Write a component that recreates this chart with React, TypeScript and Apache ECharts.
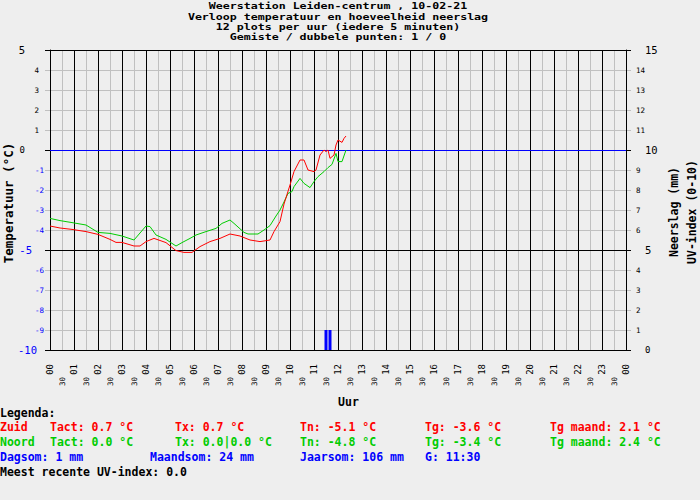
import React, { useEffect, useRef } from "react";
import * as echarts from "echarts";

const titleLines = [
  "Weerstation Leiden-centrum , 10-02-21",
  "Verloop temperatuur en hoeveelheid neerslag",
  "12 plots per uur (iedere 5 minuten)",
  "Gemiste / dubbele punten: 1 / 0",
];

const hourLabels = [
  "00", "01", "02", "03", "04", "05", "06", "07", "08", "09", "10", "11",
  "12", "13", "14", "15", "16", "17", "18", "19", "20", "21", "22", "23", "00",
];
const halfHourLabel = "30";

// minutes since midnight, temperature °C
const zuidMinutes = [0, 25, 55, 90, 120, 150, 165, 180, 210, 225, 240, 260, 290, 315, 335, 355, 375, 400, 425, 450, 475, 500, 525, 550, 560, 575, 585, 600, 610, 625, 635, 645, 660, 665, 675, 685, 690, 695, 700, 710, 715, 720, 730, 735, 740];
const zuidTemps = [-3.8, -3.9, -3.97, -4.08, -4.22, -4.47, -4.62, -4.62, -4.8, -4.8, -4.58, -4.42, -4.63, -5.03, -5.12, -5.12, -4.83, -4.58, -4.42, -4.2, -4.3, -4.5, -4.58, -4.5, -4.08, -3.58, -2.7, -1.75, -1.08, -0.5, -0.5, -1.0, -1.08, -1.0, -0.25, 0.0, -0.08, 0.0, -0.42, -0.25, 0.25, 0.5, 0.38, 0.58, 0.7];

const noordMinutes = [0, 25, 55, 90, 120, 150, 180, 210, 225, 240, 250, 265, 290, 315, 330, 350, 365, 390, 415, 430, 450, 460, 485, 495, 520, 535, 550, 565, 575, 585, 595, 605, 610, 625, 635, 650, 660, 670, 685, 695, 705, 715, 720, 730, 740];
const noordTemps = [-3.42, -3.53, -3.63, -3.75, -4.12, -4.17, -4.3, -4.5, -4.15, -3.8, -3.83, -4.25, -4.47, -4.8, -4.63, -4.42, -4.25, -4.08, -3.92, -3.67, -3.5, -3.67, -4.12, -4.2, -4.2, -4.0, -3.78, -3.3, -3.0, -2.6, -2.17, -2.08, -1.83, -1.42, -1.67, -1.88, -1.58, -1.33, -1.08, -0.88, -0.72, -0.17, -0.58, -0.58, 0.0];

const rainMinutes = [690, 700];
const rainMm = [1.0, 1.0];

const legendHeader = "Legenda:";
const legendZuid = ["Zuid", "Tact: 0.7 °C", "Tx: 0.7 °C", "Tn: -5.1 °C", "Tg: -3.6 °C", "Tg maand: 2.1 °C"];
const legendNoord = ["Noord", "Tact: 0.0 °C", "Tx: 0.0|0.0 °C", "Tn: -4.8 °C", "Tg: -3.4 °C", "Tg maand: 2.4 °C"];
const legendRain = ["Dagsom: 1 mm", "Maandsom: 24 mm", "Jaarsom: 106 mm", "G: 11:30"];
const legendUV = "Meest recente UV-index: 0.0";

const RED = "#ff0000";
const GREEN = "#00cc00";
const BLUE = "#0000ff";
const GRAY = "#c0c0c0";
const BG = "#eeeeee";
const MONO = "DejaVu Sans Mono";
const BOLD = 'bold 11.5px "DejaVu Sans Mono"';
const TITLE_FONT = 'bold 8.6px "DejaVu Sans Mono"';

function txt(text: string, x: number, y: number, fill: string, align = "left", font = BOLD, rotation = 0, scaleX = 1) {
  return {
    type: "text",
    x,
    y,
    rotation,
    scaleX,
    scaleY: 1,
    silent: true,
    style: {
      text,
      font,
      fill,
      align,
      textAlign: align,
      verticalAlign: "middle",
      textVerticalAlign: "middle",
    },
  };
}

export default function App() {
  const ref = useRef<HTMLDivElement>(null);
  useEffect(() => {
    if (!ref.current) return;
    const chart = echarts.init(ref.current, null, { renderer: "svg" });

    const zuid = zuidMinutes.map((m, i) => [m / 60, zuidTemps[i]]);
    const noord = noordMinutes.map((m, i) => [m / 60, noordTemps[i]]);
    const rain = rainMinutes.map((m, i) => [m / 60, rainMm[i]]);

    const legendCols = [0, 50, 175, 300, 425, 550];
    const rainCols = [0, 150, 300, 425];
    const titleY = [6.5, 16.6, 26.7, 36.8];

    const graphics: any[] = [];
    titleLines.forEach((t, i) => graphics.push(txt(t, 338, titleY[i], "#000", "center", TITLE_FONT, 0, 1.35)));
    graphics.push(txt("Uur", 348.5, 401.5, "#000", "center"));
    graphics.push(txt("Temperatuur (°C)", 8, 203, "#000", "center", 'bold 12.5px "DejaVu Sans Mono"', Math.PI / 2));
    graphics.push(txt("Neerslag (mm)", 674, 212, "#000", "center", BOLD, Math.PI / 2));
    graphics.push(txt("UV-index (0-10)", 692, 212, "#000", "center", BOLD, Math.PI / 2));
    graphics.push(txt(legendHeader, 0, 412.5, "#000"));
    legendZuid.forEach((t, i) => graphics.push(txt(t, legendCols[i], 427, RED)));
    legendNoord.forEach((t, i) => graphics.push(txt(t, legendCols[i], 442, GREEN)));
    legendRain.forEach((t, i) => graphics.push(txt(t, rainCols[i], 457, BLUE)));
    graphics.push(txt(legendUV, 0, 472, "#000"));

    const option: any = {
      animation: false,
      backgroundColor: BG,
      grid: { left: 50, right: 74, top: 50, bottom: 150, containLabel: false, outerBoundsMode: "none" },
      xAxis: [
        {
          type: "value",
          min: 0,
          max: 24,
          interval: 1,
          position: "bottom",
          z: 1,
          axisLine: { show: true, lineStyle: { color: "#000", width: 1 } },
          axisTick: { show: true, inside: false, length: 10, lineStyle: { color: "#000" } },
          splitLine: { show: true, lineStyle: { color: "#000", width: 1 } },
          axisLabel: {
            rotate: 90,
            margin: 14,
            fontFamily: MONO,
            fontSize: 9,
            color: "#000",
            showMinLabel: true,
            showMaxLabel: true,
            formatter: (v: number) => hourLabels[Math.round(v)] ?? "",
          },
        },
        {
          type: "value",
          min: 0,
          max: 24,
          interval: 0.5,
          position: "bottom",
          z: 0,
          axisLine: { show: false },
          axisTick: { show: false },
          splitLine: { show: true, lineStyle: { color: GRAY, width: 1 } },
          axisLabel: {
            rotate: 90,
            margin: 27,
            fontFamily: MONO,
            fontSize: 7.5,
            color: "#000",
            formatter: (v: number) => (Math.abs((v % 1) - 0.5) < 1e-6 ? halfHourLabel : ""),
          },
        },
      ],
      yAxis: [
        {
          type: "value",
          min: -10,
          max: 5,
          interval: 1,
          position: "left",
          z: 0,
          axisLine: { show: true, lineStyle: { color: "#000" } },
          axisTick: { show: true, inside: false, length: 5, lineStyle: { color: GRAY } },
          splitLine: { show: true, lineStyle: { color: GRAY, width: 1 } },
          axisLabel: {
            align: "right",
            margin: 5,
            fontFamily: MONO,
            formatter: (v: number) => {
              if (v === 5) return `{bp|${v}}`;
              if (v === 0) return `{z0|0}`;
              if (v > 0) return `{sp|${v}}`;
              if (v === -5) return `{b5|${v}}`;
              if (v === -10) return `{b10|${v}}`;
              return `{sn|${v}}`;
            },
            rich: {
              bp: { fontFamily: MONO, fontSize: 10.5, color: "#000", padding: [0, 20, 0, 0] },
              z0: { fontFamily: MONO, fontSize: 9, color: "#000", padding: [0, 20, 0, 0] },
              sp: { fontFamily: MONO, fontSize: 7.5, color: "#000", padding: [0, 6, 0, 0] },
              sn: { fontFamily: MONO, fontSize: 7.5, color: BLUE, padding: [0, 1, 0, 0] },
              b5: { fontFamily: MONO, fontSize: 10.5, color: BLUE, padding: [0, 13, 0, 0] },
              b10: { fontFamily: MONO, fontSize: 10.5, color: BLUE, padding: [0, 8, 0, 0] },
            },
          },
        },
        {
          type: "value",
          min: -10,
          max: 5,
          interval: 5,
          position: "left",
          z: 1,
          axisLine: { show: false },
          axisTick: { show: true, inside: false, length: 5, lineStyle: { color: "#000" } },
          splitLine: { show: true, lineStyle: { color: "#000", width: 1 } },
          axisLabel: { show: false },
        },
        {
          type: "value",
          min: 0,
          max: 15,
          interval: 1,
          position: "right",
          z: 0,
          axisLine: { show: true, lineStyle: { color: "#000" } },
          axisTick: { show: true, inside: false, length: 5, lineStyle: { color: GRAY } },
          splitLine: { show: false },
          axisLabel: {
            align: "left",
            margin: 10,
            fontFamily: MONO,
            formatter: (v: number) => {
              if (v === 5 || v === 10 || v === 15) return `{b|${v}}`;
              if (v === 0) return `{z|0}`;
              return `{s|${v}}`;
            },
            rich: {
              b: { fontFamily: MONO, fontSize: 10.5, color: "#000", padding: [0, 0, 0, 9] },
              z: { fontFamily: MONO, fontSize: 9, color: "#000", padding: [0, 0, 0, 9] },
              s: { fontFamily: MONO, fontSize: 7.5, color: "#000" },
            },
          },
        },
        {
          type: "value",
          min: -10,
          max: 5,
          interval: 5,
          position: "right",
          z: 1,
          axisLine: { show: false },
          axisTick: { show: true, inside: false, length: 5, lineStyle: { color: "#000" } },
          splitLine: { show: false },
          axisLabel: { show: false },
        },
      ],
      series: [
        {
          type: "bar",
          xAxisIndex: 0,
          yAxisIndex: 2,
          data: rain,
          barWidth: 3,
          itemStyle: { color: BLUE },
          silent: true,
        },
        {
          type: "line",
          name: "Noord",
          xAxisIndex: 0,
          yAxisIndex: 0,
          data: noord,
          showSymbol: false,
          symbol: "none",
          lineStyle: { color: GREEN, width: 1 },
          silent: true,
          markLine: {
            silent: true,
            z: 1.5,
            symbol: ["none", "none"],
            label: { show: false },
            lineStyle: { color: BLUE, type: "solid", width: 1 },
            data: [{ yAxis: 0 }],
          },
        },
        {
          type: "line",
          name: "Zuid",
          xAxisIndex: 0,
          yAxisIndex: 0,
          data: zuid,
          showSymbol: false,
          symbol: "none",
          lineStyle: { color: RED, width: 1 },
          silent: true,
        },
      ],
      graphic: { elements: graphics },
    };

    chart.setOption(option);
    return () => chart.dispose();
  }, []);

  return (
    <div
      ref={ref}
      style={{ position: "absolute", left: 0, top: 0, width: 700, height: 500, background: BG }}
    />
  );
}
